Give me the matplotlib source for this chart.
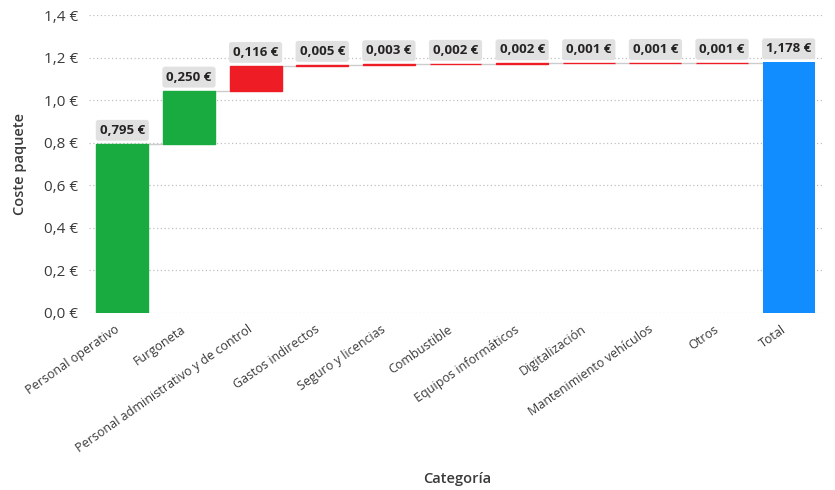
import matplotlib
matplotlib.use("Agg")
import matplotlib.pyplot as plt
import matplotlib.transforms as mtransforms
import numpy as np

categories = [
    "Personal operativo", "Furgoneta", "Personal administrativo y de control",
    "Gastos indirectos", "Seguro y licencias", "Combustible",
    "Equipos informáticos", "Digitalización", "Mantenimiento vehículos",
    "Otros", "Total",
]
step_values = [0.795, 0.250, 0.116, 0.005, 0.003, 0.002, 0.002, 0.001, 0.001, 0.001]
total_value = 1.178
step_colors = ["#1aab40", "#1aab40", "#ee1c25", "#ee1c25", "#ee1c25", "#ee1c25",
               "#ee1c25", "#ee1c25", "#ee1c25", "#ee1c25"]
total_color = "#118dff"
y_ticks = [0.0, 0.2, 0.4, 0.6, 0.8, 1.0, 1.2, 1.4]

plt.rcParams["font.family"] = ["Open Sans", "DejaVu Sans"]

fig = plt.figure(figsize=(8.35, 4.90), dpi=100)
ax = fig.add_axes([89 / 835, (490 - 313) / 490, (822 - 89) / 835, (313 - 15) / 490])

ends = np.cumsum(step_values)
starts = ends - np.array(step_values)
x = np.arange(len(categories))
width = 0.78

# step bars (thin edge keeps tiny steps visible)
ax.bar(x[:-1], step_values, bottom=starts, width=width, color=step_colors,
       edgecolor=step_colors, linewidth=1.0, zorder=3)
# total bar
ax.bar(x[-1], total_value, width=width, color=total_color, zorder=3)

# connectors between consecutive bars
tops = list(ends) + [total_value]
for i in range(len(categories) - 1):
    ax.plot([x[i] + width / 2, x[i + 1] - width / 2], [tops[i], tops[i]],
            color="#cccccc", lw=1.0, zorder=2)

# value labels
labels = [f"{v:.3f} €".replace(".", ",") for v in step_values] + \
         [f"{total_value:.3f} €".replace(".", ",")]
for xi, top, lab in zip(x, tops, labels):
    ax.annotate(lab, (xi, top), xytext=(0, 5.0), textcoords="offset points",
                ha="center", va="bottom", fontsize=9.5, fontweight="bold",
                color="#252423",
                bbox=dict(boxstyle="round,pad=0.3,rounding_size=0.2",
                          fc="#e1e1e1", ec="none"),
                zorder=5)

ax.set_xlim(-0.5, len(categories) - 0.5)
ax.set_ylim(0, 1.4)
ax.set_yticks(y_ticks)
ax.set_yticklabels([f"{t:.1f} €".replace(".", ",") for t in y_ticks])
ax.yaxis.grid(True, linestyle=(0, (1, 2)), color="#c0c0c0", lw=0.9, zorder=0)
ax.set_axisbelow(True)

# rotated category labels, nudged a little to the left of each bar centre
ax.set_xticks(x)
ax.set_xticklabels([])
label_tf = ax.get_xaxis_transform() + mtransforms.ScaledTranslation(
    -8 / 100, -10 / 100, fig.dpi_scale_trans)
for xi, cat in zip(x, categories):
    ax.text(xi, 0, cat, transform=label_tf, rotation=35, ha="right", va="top",
            rotation_mode="anchor", fontsize=9, color="#3a3a3a")

for s in ax.spines.values():
    s.set_visible(False)
ax.tick_params(axis="both", length=0, colors="#3a3a3a")
ax.tick_params(axis="y", pad=8, labelsize=11)

ax.set_ylabel("Coste paquete", fontsize=10.5, fontweight="semibold", color="#3a3a3a",
              labelpad=12)
fig.text(457 / 835, 1 - 479 / 490, "Categoría", ha="center", va="center",
         fontsize=10.5, fontweight="semibold", color="#3a3a3a")

fig.savefig("out.png", dpi=100, facecolor="white")
